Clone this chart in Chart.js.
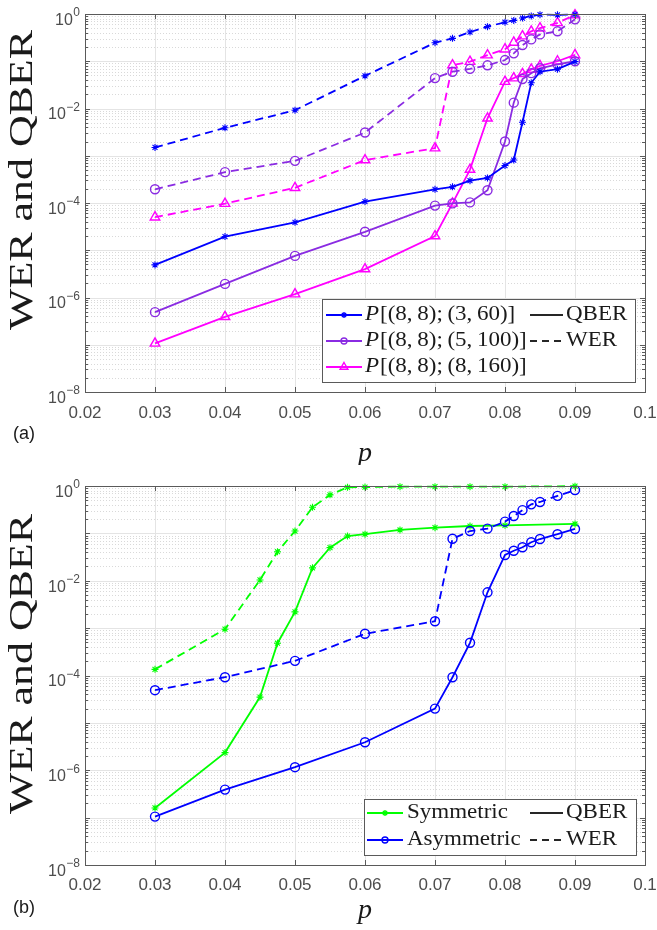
<!DOCTYPE html>
<html>
<head>
<meta charset="utf-8">
<title>WER and QBER vs p</title>
<script src="https://cdn.jsdelivr.net/npm/chart.js@4.4.1/dist/chart.umd.min.js"></script>
<style>
  body { margin: 0; background: #fff; }
  #wrap { position: relative; width: 657px; height: 930px; }
  canvas { position: absolute; left: 0; }
  #chart-a { top: 0; }
  #chart-b { top: 465px; }
</style>
</head>
<body>
<div id="wrap">
  <canvas id="chart-a" width="657" height="465"></canvas>
  <canvas id="chart-b" width="657" height="465"></canvas>
</div>
<script>
// physical error probability p
var pFine = [0.03, 0.04, 0.05, 0.06, 0.07, 0.0725, 0.075, 0.0775, 0.08, 0.08125, 0.0825, 0.08375, 0.085, 0.0875, 0.09];
var pSym  = [0.03, 0.04, 0.045, 0.0475, 0.05, 0.0525, 0.055, 0.0575, 0.06, 0.065, 0.07, 0.075, 0.08, 0.09];

// (a) P[(8,8);(3,60)]
var qber_3_60 = [4.9e-6, 1.95e-5, 3.9e-5, 1.07e-4, 1.95e-4, 2.2e-4, 2.96e-4, 3.4e-4, 6.2e-4, 8.1e-4, 5.1e-3, 0.035, 0.06, 0.068, 0.098];
var wer_3_60  = [1.5e-3, 3.9e-3, 9.2e-3, 0.049, 0.247, 0.305, 0.415, 0.54, 0.67, 0.73, 0.82, 0.91, 0.97, 0.96, 0.98];
// (a) P[(8,8);(5,100)]
var qber_5_100 = [4.9e-7, 1.94e-6, 7.6e-6, 2.46e-5, 8.8e-5, 9.8e-5, 1.03e-4, 1.86e-4, 2.0e-3, 0.0133, 0.042, 0.056, 0.071, 0.086, 0.10];
var wer_5_100  = [1.95e-4, 4.5e-4, 7.8e-4, 3.1e-3, 0.044, 0.060, 0.069, 0.082, 0.106, 0.147, 0.22, 0.29, 0.37, 0.43, 0.77];
// (a) P[(8,8);(8,160)]
var qber_8_160 = [1.07e-7, 3.9e-7, 1.18e-6, 4.0e-6, 2.0e-5, 9.8e-5, 5.1e-4, 6.2e-3, 0.037, 0.044, 0.054, 0.067, 0.08, 0.10, 0.136];
var wer_8_160  = [5.0e-5, 9.7e-5, 2.1e-4, 8.1e-4, 1.45e-3, 0.083, 0.098, 0.135, 0.18, 0.25, 0.34, 0.43, 0.5, 0.65, 0.95];

// (b) symmetric vs asymmetric
var qberSym  = [1.6e-7, 2.36e-6, 3.5e-5, 4.8e-4, 2.2e-3, 0.0187, 0.050, 0.088, 0.096, 0.118, 0.132, 0.143, 0.148, 0.158];
var werSym   = [1.35e-4, 9.5e-4, 0.0104, 0.041, 0.112, 0.355, 0.65, 0.94, 0.95, 0.97, 0.97, 0.97, 0.97, 0.99];
var qberAsym = [1.05e-7, 3.9e-7, 1.16e-6, 3.9e-6, 2.0e-5, 9.2e-5, 4.9e-4, 5.7e-3, 0.035, 0.043, 0.051, 0.065, 0.076, 0.096, 0.124];
var werAsym  = [4.9e-5, 9.2e-5, 2.04e-4, 7.6e-4, 1.4e-3, 0.077, 0.112, 0.126, 0.177, 0.233, 0.31, 0.41, 0.46, 0.62, 0.82];

var xTickValues = [0.02, 0.03, 0.04, 0.05, 0.06, 0.07, 0.08, 0.09, 0.1];
var xTickLabels = ['0.02', '0.03', '0.04', '0.05', '0.06', '0.07', '0.08', '0.09', '0.1'];
var yTickExps = [0, -2, -4, -6, -8];

var labelsA = ['P[(8,\u20098);\u2009(3,\u200960)]', 'P[(8,\u20098);\u2009(5,\u2009100)]', 'P[(8,\u20098);\u2009(8,\u2009160)]'];
var labelsB = ['Symmetric', 'Asymmetric'];
var styleLabels = ['QBER', 'WER'];

var SERIF = '"Liberation Serif", "Times New Roman", serif';
var SANS = '"Liberation Sans", Arial, Helvetica, sans-serif';
var TEXT = '#1a1a1a';
var TICK_GRAY = '#4d4d4d';
var AXIS_GRAY = '#5a5a5a';

var BLUE = '#0000ff', PURPLE = '#8a2be2', MAGENTA = '#ff00ff', GREEN = '#00ff00';
var RADIUS = { circle: 4.5, triangle: 5.5, star: 3.5 };

function series(xs, ys, color, style, dashed) {
  return {
    data: xs.map(function (x, i) { return { x: x, y: ys[i] }; }),
    borderColor: color,
    borderWidth: 1.8,
    borderDash: dashed ? [8, 5] : [],
    pointStyle: style,
    pointRadius: RADIUS[style],
    pointBorderColor: color,
    pointBackgroundColor: 'rgba(0,0,0,0)',
    pointBorderWidth: style === 'star' ? 1.1 : 1.4,
    fill: false,
    tension: 0,
    clip: false
  };
}

// text drawn a bit wider than Liberation Serif, closer to the TeX look
function stretchText(ctx, text, x, y, font, sx, align) {
  ctx.save();
  ctx.font = font;
  var w = ctx.measureText(text).width * sx;
  var x0 = align === 'center' ? x - w / 2 : (align === 'right' ? x - w : x);
  ctx.translate(x0, y);
  ctx.scale(sx, 1);
  ctx.textAlign = 'left';
  ctx.fillText(text, 0, 0);
  ctx.restore();
  return w;
}

function marker(ctx, style, x, y, r) {
  ctx.beginPath();
  if (style === 'circle') {
    ctx.arc(x, y, r, 0, 2 * Math.PI);
  } else if (style === 'triangle') {
    ctx.moveTo(x, y - r);
    ctx.lineTo(x + r * 0.866, y + r * 0.5);
    ctx.lineTo(x - r * 0.866, y + r * 0.5);
    ctx.closePath();
  } else {
    ctx.moveTo(x - r, y); ctx.lineTo(x + r, y);
    ctx.moveTo(x, y - r); ctx.lineTo(x, y + r);
    var d = r * 0.707;
    ctx.moveTo(x - d, y - d); ctx.lineTo(x + d, y + d);
    ctx.moveTo(x - d, y + d); ctx.lineTo(x + d, y - d);
  }
  ctx.stroke();
}

var frames = {
  'chart-a': {
    tag: '(a)', tagY: 434, yLabelY: 180, xLabelY: 461, xTickY: 413,
    legend: {
      box: [322, 299, 313, 83], rows: [315, 341, 367],
      sample: [326, 362], textX: 365,
      entries: [
        { label: labelsA[0], color: BLUE, style: 'star', italicFirst: true },
        { label: labelsA[1], color: PURPLE, style: 'circle', italicFirst: true },
        { label: labelsA[2], color: MAGENTA, style: 'triangle', italicFirst: true }
      ]
    }
  },
  'chart-b': {
    tag: '(b)', tagY: 443, yLabelY: 199, xLabelY: 453, xTickY: 420,
    legend: {
      box: [364, 334, 272, 56], rows: [348, 375],
      sample: [367, 403], textX: 407,
      entries: [
        { label: labelsB[0], color: GREEN, style: 'star' },
        { label: labelsB[1], color: BLUE, style: 'circle' }
      ]
    }
  }
};

var matlabFrame = {
  id: 'matlabFrame',
  beforeDatasetsDraw: function (chart) {
    var ctx = chart.ctx, a = chart.chartArea;
    var x = chart.scales.x, y = chart.scales.y;
    ctx.save();
    ctx.lineWidth = 1;
    // minor log grid, dotted
    ctx.strokeStyle = '#d9d9d9';
    ctx.setLineDash([1, 2]);
    for (var k = -8; k < 0; k++) {
      for (var m = 2; m <= 9; m++) {
        var py = Math.round(y.getPixelForValue(m * Math.pow(10, k))) + 0.5;
        ctx.beginPath(); ctx.moveTo(a.left, py); ctx.lineTo(a.right, py); ctx.stroke();
      }
    }
    // major grid
    ctx.setLineDash([]);
    ctx.strokeStyle = '#e4e4e4';
    for (var e = -8; e <= 0; e++) {
      var yy = Math.round(y.getPixelForValue(Math.pow(10, e))) + 0.5;
      ctx.beginPath(); ctx.moveTo(a.left, yy); ctx.lineTo(a.right, yy); ctx.stroke();
    }
    xTickValues.forEach(function (v) {
      var px = Math.round(x.getPixelForValue(v)) + 0.5;
      ctx.beginPath(); ctx.moveTo(px, a.top); ctx.lineTo(px, a.bottom); ctx.stroke();
    });
    ctx.restore();
  },
  afterDatasetsDraw: function (chart) {
    var ctx = chart.ctx, a = chart.chartArea;
    var x = chart.scales.x, y = chart.scales.y;
    ctx.save();
    ctx.strokeStyle = AXIS_GRAY;
    ctx.lineWidth = 1;
    ctx.beginPath();
    xTickValues.forEach(function (v) {
      var px = Math.round(x.getPixelForValue(v)) + 0.5;
      ctx.moveTo(px, a.bottom); ctx.lineTo(px, a.bottom - 5);
      ctx.moveTo(px, a.top); ctx.lineTo(px, a.top + 5);
    });
    for (var k = -8; k <= 0; k++) {
      for (var m = 1; m <= 9; m++) {
        if (k === 0 && m > 1) break;
        var py = Math.round(y.getPixelForValue(m * Math.pow(10, k))) + 0.5;
        var len = m === 1 ? 5 : 3;
        ctx.moveTo(a.left, py); ctx.lineTo(a.left + len, py);
        ctx.moveTo(a.right, py); ctx.lineTo(a.right - len, py);
      }
    }
    ctx.stroke();
    ctx.strokeRect(Math.round(a.left) + 0.5, Math.round(a.top) + 0.5,
      Math.round(a.right - a.left), Math.round(a.bottom - a.top));
    ctx.restore();
  },
  afterDraw: function (chart) {
    var f = frames[chart.canvas.id];
    var ctx = chart.ctx, a = chart.chartArea;
    var x = chart.scales.x, y = chart.scales.y;
    ctx.save();

    // tick labels
    ctx.fillStyle = TICK_GRAY;
    ctx.textBaseline = 'middle';
    ctx.textAlign = 'center';
    ctx.font = '17px ' + SANS;
    xTickValues.forEach(function (v, i) {
      ctx.fillText(xTickLabels[i], x.getPixelForValue(v), f.xTickY);
    });
    ctx.textAlign = 'left';
    yTickExps.forEach(function (e) {
      var py = y.getPixelForValue(Math.pow(10, e));
      var es = (e < 0 ? '\u2212' : '') + Math.abs(e);
      ctx.font = '12px ' + SANS;
      var we = ctx.measureText(es).width;
      ctx.fillText(es, 80 - we, py - 1);
      ctx.font = '16px ' + SANS;
      var wb = ctx.measureText('10').width;
      ctx.fillText('10', 80 - we - wb - 0.5, py + 6.5);
    });

    // axis titles and panel tag
    ctx.fillStyle = TEXT;
    ctx.textBaseline = 'alphabetic';
    ctx.save();
    ctx.translate(32, f.yLabelY);
    ctx.rotate(-Math.PI / 2);
    stretchText(ctx, 'WER and QBER', 0, 0, '33px ' + SERIF, 1.33, 'center');
    ctx.restore();
    ctx.font = 'italic 28px ' + SERIF;
    ctx.textAlign = 'center';
    ctx.fillText('p', (a.left + a.right) / 2, f.xLabelY);
    ctx.font = '18px ' + SANS;
    ctx.textAlign = 'left';
    ctx.textBaseline = 'middle';
    ctx.fillText(f.tag, 13, f.tagY);

    // legend
    var L = f.legend;
    ctx.fillStyle = '#fff';
    ctx.fillRect(L.box[0], L.box[1], L.box[2], L.box[3]);
    ctx.strokeStyle = AXIS_GRAY;
    ctx.lineWidth = 1;
    ctx.strokeRect(L.box[0] + 0.5, L.box[1] + 0.5, L.box[2], L.box[3]);
    L.entries.forEach(function (en, i) {
      var ry = L.rows[i];
      ctx.strokeStyle = en.color;
      ctx.lineWidth = 1.8;
      ctx.setLineDash([]);
      ctx.beginPath(); ctx.moveTo(L.sample[0], ry); ctx.lineTo(L.sample[1], ry); ctx.stroke();
      ctx.lineWidth = 1.4;
      marker(ctx, en.style, (L.sample[0] + L.sample[1]) / 2, ry, en.style === 'triangle' ? 4.5 : 3);
      ctx.fillStyle = TEXT;
      ctx.textBaseline = 'middle';
      var tx = L.textX;
      if (en.italicFirst) {
        tx += stretchText(ctx, en.label.charAt(0), tx, ry, 'italic 20px ' + SERIF, 1.15, 'left') + 1;
        stretchText(ctx, en.label.slice(1), tx, ry, '20px ' + SERIF, 1.15, 'left');
      } else {
        stretchText(ctx, en.label, tx, ry, '20px ' + SERIF, 1.15, 'left');
      }
    });
    styleLabels.forEach(function (s, i) {
      var ry = L.rows[i];
      ctx.strokeStyle = '#262626';
      ctx.lineWidth = 1.8;
      ctx.setLineDash(i === 0 ? [] : [7, 5]);
      ctx.beginPath(); ctx.moveTo(530, ry); ctx.lineTo(563, ry); ctx.stroke();
      ctx.setLineDash([]);
      ctx.fillStyle = TEXT;
      stretchText(ctx, s, 566, ry, '20px ' + SERIF, 1.15, 'left');
    });
    ctx.restore();
  }
};

function makeChart(id, datasets, padTop, xHeight) {
  return new Chart(document.getElementById(id), {
    type: 'line',
    data: { datasets: datasets },
    options: {
      responsive: false,
      animation: false,
      devicePixelRatio: 1,
      layout: { padding: { top: padTop, right: 12, left: 0, bottom: 0 } },
      plugins: { legend: { display: false }, tooltip: { enabled: false } },
      scales: {
        x: {
          type: 'linear', min: 0.02, max: 0.1,
          ticks: { display: false, stepSize: 0.01 },
          grid: { display: false }, border: { display: false },
          afterFit: function (s) { s.height = xHeight; }
        },
        y: {
          type: 'logarithmic', min: 1e-8, max: 1,
          ticks: { display: false },
          grid: { display: false }, border: { display: false },
          afterFit: function (s) { s.width = 85; }
        }
      }
    },
    plugins: [matlabFrame]
  });
}

makeChart('chart-a', [
  series(pFine, wer_3_60, BLUE, 'star', true),
  series(pFine, wer_5_100, PURPLE, 'circle', true),
  series(pFine, wer_8_160, MAGENTA, 'triangle', true),
  series(pFine, qber_3_60, BLUE, 'star', false),
  series(pFine, qber_5_100, PURPLE, 'circle', false),
  series(pFine, qber_8_160, MAGENTA, 'triangle', false)
], 14, 73);

makeChart('chart-b', [
  series(pSym, werSym, GREEN, 'star', true),
  series(pFine, werAsym, BLUE, 'circle', true),
  series(pSym, qberSym, GREEN, 'star', false),
  series(pFine, qberAsym, BLUE, 'circle', false)
], 21, 65);
</script>
</body>
</html>
